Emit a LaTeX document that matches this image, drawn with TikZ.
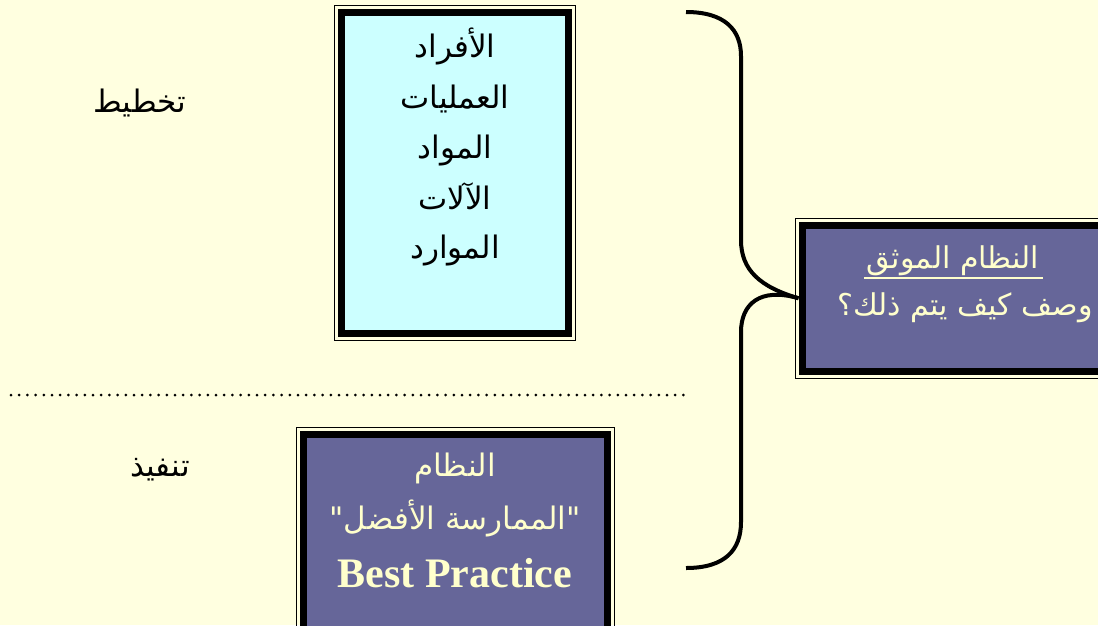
\documentclass[tikz,border=0pt]{standalone}
\usepackage{fontspec}
\TeXXeTstate=1
\newfontfamily\arabicfont[Script=Arabic]{DejaVu Sans}
\newfontfamily\timesfont{Liberation Serif}
\definecolor{bgyellow}{RGB}{255,255,224}
\definecolor{cyanfill}{RGB}{204,255,255}
\definecolor{purplefill}{RGB}{102,102,153}
\definecolor{creamtext}{RGB}{255,255,204}
\tikzset{
  framebox/.style={draw=black, line width=7pt, inner sep=0pt},
  thinframe/.style={draw=black, line width=1pt},
  artext/.style={font=\arabicfont\fontsize{31}{36}\selectfont, inner sep=0pt, anchor=base},
  darktext/.style={artext, text=black},
  lighttext/.style={artext, text=creamtext},
  bracestyle/.style={draw=black, line width=4pt},
  dotline/.style={draw=black, line width=3pt, line cap=round, dash pattern=on 0pt off 8.2pt}
}
\begin{document}
\begin{tikzpicture}[x=1pt,y=-1pt]
\clip (0,0) rectangle (1098,625);
\fill[bgyellow] (0,0) rectangle (1098,625);

% cyan box
\node[framebox, fill=cyanfill, minimum width=227pt, minimum height=321pt] (res) at (455,173) {};
\draw[thinframe] ([shift={(-3.5pt,3.5pt)}]res.north west) rectangle ([shift={(3.5pt,-3.5pt)}]res.south east);
\node[darktext] (r1) at (455,57) {\beginR الأفراد\endR};
\node[darktext] (r2) at (455,108) {\beginR العمليات\endR};
\node[darktext] (r3) at (455,158) {\beginR المواد\endR};
\node[darktext] (r4) at (455,209) {\beginR الآلات\endR};
\node[darktext] (r5) at (455,258) {\beginR الموارد\endR};

% bottom purple box
\node[framebox, fill=purplefill, minimum width=304pt, minimum height=260pt] (bp) at (455.5,564.5) {};
\draw[thinframe] ([shift={(-3.5pt,3.5pt)}]bp.north west) rectangle ([shift={(3.5pt,-3.5pt)}]bp.south east);
\node[lighttext] (b1) at (455,476) {\beginR النظام\endR};
\node[lighttext] (b2) at (455,529) {\beginR"الممارسة الأفضل"\endR};
\node[font=\timesfont\bfseries\fontsize{42}{46}\selectfont, text=creamtext, inner sep=0pt, anchor=base] (b3) at (455,587) {Best Practice};

% right purple box
\node[framebox, fill=purplefill, minimum width=360pt, minimum height=146.5pt] (doc) at (982,298.25) {};
\draw[thinframe] ([shift={(-3.5pt,3.5pt)}]doc.north west) rectangle ([shift={(3.5pt,-3.5pt)}]doc.south east);
\node[lighttext, font=\arabicfont\fontsize{30}{34}\selectfont] (d1) at (953,268) {\beginR النظام الموثق\endR};
\draw[creamtext, line width=1.3pt] (864,278) -- (1043,278);
\node[lighttext, font=\arabicfont\fontsize{30}{34}\selectfont] (d2) at (965,315) {\beginR وصف كيف يتم ذلك؟\endR};

% side labels
\node[darktext] (plan) at (140,112) {\beginR تخطيط\endR};
\node[darktext] (exec) at (160,476) {\beginR تنفيذ\endR};

% dotted separator
\coordinate (dl) at (11,395);
\coordinate (dr) at (685,395);
\draw[dotline] (dl) -- (dr);

% brace
\coordinate (bt) at (686,12);
\coordinate (bb) at (686,568);
\draw[bracestyle] (bt) .. controls (725,12) and (741,30) .. (741,56) -- (741,240)
  .. controls (741,270) and (760,287) .. (doc.west);
\draw[bracestyle] (doc.west) .. controls (760,287) and (741,304) .. (741,332) -- (741,522)
  .. controls (741,550) and (725,568) .. (bb);
\end{tikzpicture}
\end{document}
